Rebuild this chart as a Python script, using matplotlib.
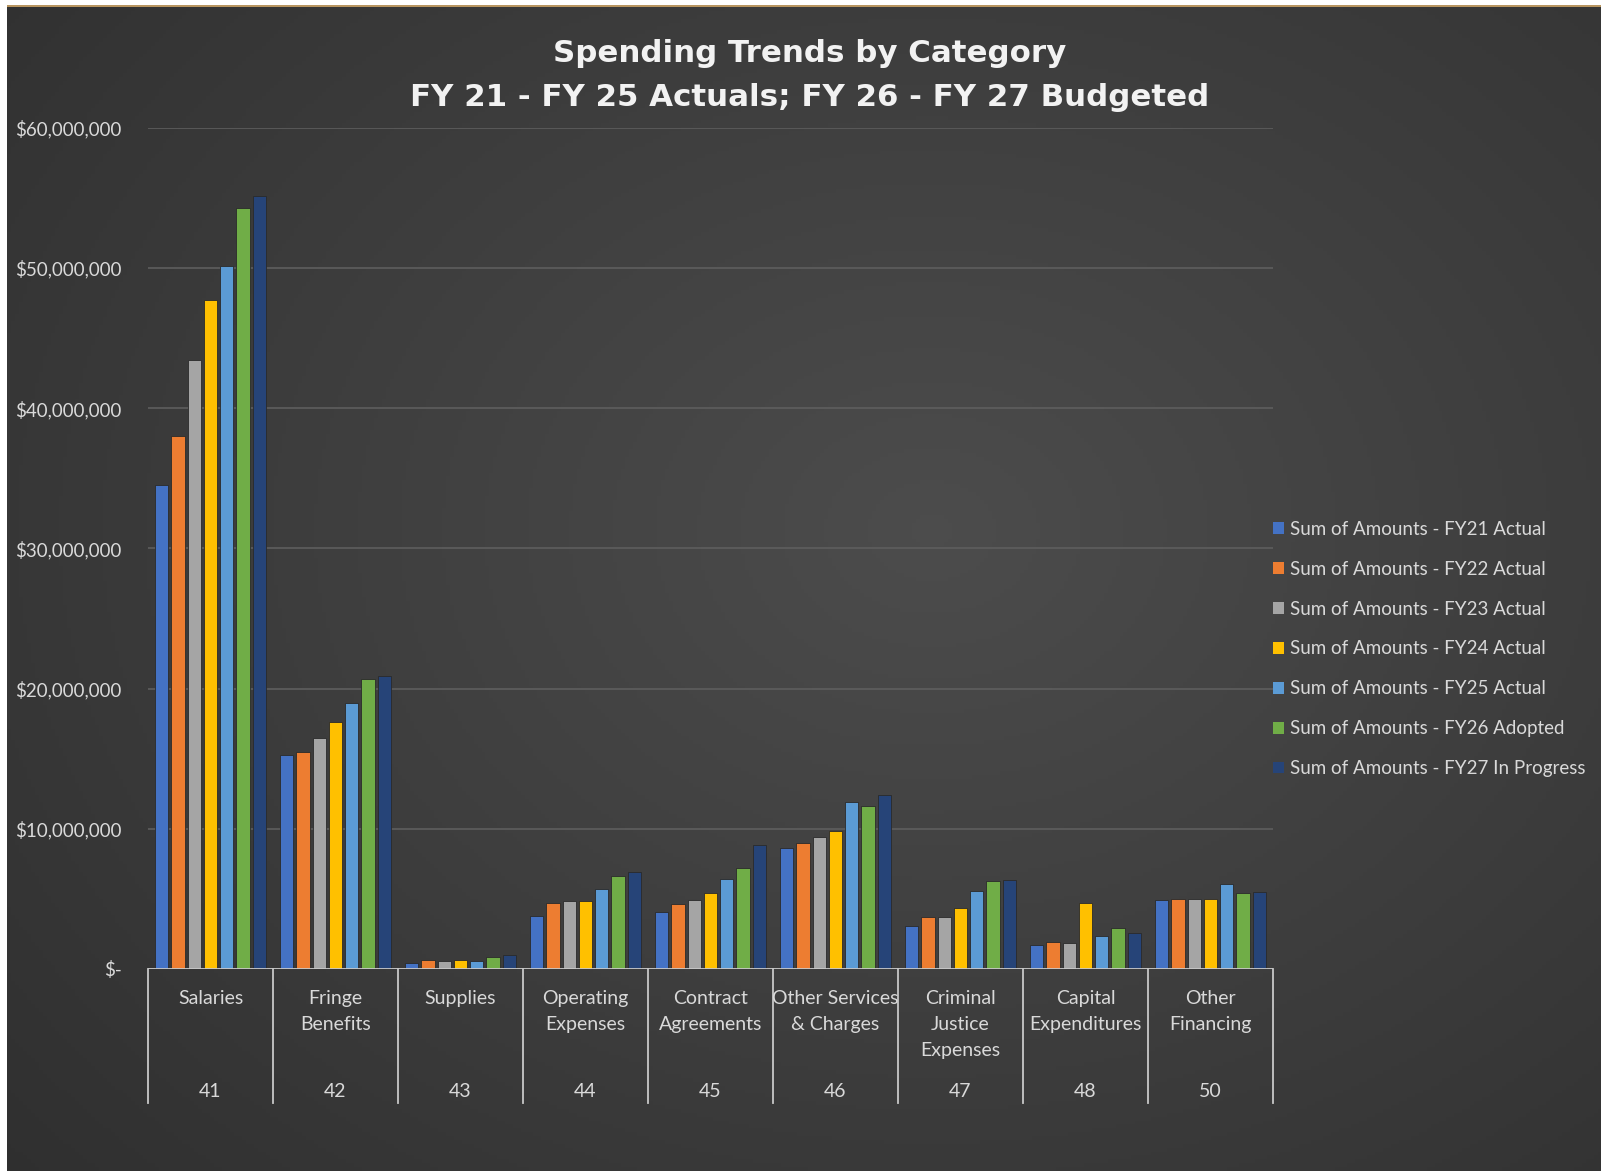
import numpy as np
import matplotlib.pyplot as plt
from matplotlib.patches import Patch, Rectangle
from matplotlib.ticker import FuncFormatter

categories = ["Salaries", "Fringe\nBenefits", "Supplies", "Operating\nExpenses",
              "Contract\nAgreements", "Other Services\n& Charges",
              "Criminal\nJustice\nExpenses", "Capital\nExpenditures", "Other\nFinancing"]
codes = ["41", "42", "43", "44", "45", "46", "47", "48", "50"]

series_names = ["Sum of Amounts - FY21 Actual", "Sum of Amounts - FY22 Actual",
                "Sum of Amounts - FY23 Actual", "Sum of Amounts - FY24 Actual",
                "Sum of Amounts - FY25 Actual", "Sum of Amounts - FY26 Adopted",
                "Sum of Amounts - FY27 In Progress"]

# values in millions of dollars
fy21 = [34.5, 15.25, 0.45, 3.8, 4.1, 8.6, 3.05, 1.7, 4.9]
fy22 = [38.0, 15.5, 0.65, 4.7, 4.6, 8.95, 3.7, 1.9, 5.0]
fy23 = [43.4, 16.5, 0.57, 4.85, 4.9, 9.4, 3.7, 1.85, 5.0]
fy24 = [47.7, 17.6, 0.65, 4.85, 5.4, 9.85, 4.35, 4.7, 5.0]
fy25 = [50.1, 19.0, 0.57, 5.7, 6.45, 11.9, 5.55, 2.35, 6.05]
fy26 = [54.25, 20.7, 0.83, 6.6, 7.2, 11.6, 6.3, 2.9, 5.4]
fy27 = [55.1, 20.9, 1.0, 6.95, 8.85, 12.4, 6.35, 2.6, 5.5]
series = [fy21, fy22, fy23, fy24, fy25, fy26, fy27]

colors = ["#4472C4", "#ED7D31", "#A5A5A5", "#FFC000", "#5B9BD5", "#70AD47", "#264478"]

W, H = 1601, 1171
FONT = ["Lato", "DejaVu Sans"]
TXT = "#d9d9d9"

fig = plt.figure(figsize=(W / 100, H / 100), dpi=100)
fig.patch.set_facecolor("white")

# dark radial-ish background
bg = fig.add_axes([7 / W, 0, 1 - 7 / W, 1 - 7 / H])
bg.set_axis_off()
yy, xx = np.mgrid[0:1:300j, 0:1:400j]
d = np.sqrt(((xx - 0.58) / 0.75) ** 2 + ((yy - 0.45) / 0.8) ** 2)
shade = np.clip(0.30 - 0.11 * d, 0.17, 0.30)
bg.imshow(np.dstack([shade] * 3), aspect="auto", extent=[0, 1, 0, 1], origin="upper")
fig.add_artist(Rectangle((7 / W, 1 - 7 / H), 1, 2.2 / H, transform=fig.transFigure,
                         color="#b89560", lw=0))

x0, x1 = 148, 1273
ybase, ytop = 969, 127.6
ax = fig.add_axes([x0 / W, (H - ybase) / H, (x1 - x0) / W, (ybase - ytop) / H])
ax.set_facecolor("none")

n = len(categories)
x = np.arange(n)
slot = 0.13
bw = 0.105
for k, (vals, c) in enumerate(zip(series, colors)):
    off = (k - 3) * slot
    ax.bar(x + off, np.array(vals) * 1e6, width=bw, color=c, zorder=3,
           edgecolor="#2a2a2a", linewidth=0.6, label=series_names[k])

ax.set_xlim(-0.5, n - 0.5)
ax.set_ylim(0, 60e6)
ax.set_yticks(np.arange(0, 61e6, 10e6))
ax.yaxis.set_major_formatter(FuncFormatter(lambda v, p: "$-" if v == 0 else f"${v:,.0f}"))
ax.tick_params(axis="y", length=0, pad=19, labelcolor=TXT, labelsize=13.5)
for lab in ax.get_yticklabels():
    lab.set_family(FONT)
ax.set_xticks([])
ax.grid(axis="y", color="#5e5e5e", linewidth=1.2, zorder=0)
for s in ax.spines.values():
    s.set_visible(False)
ax.axhline(0, color="#c8c8c8", linewidth=1.3, zorder=4)

# two-level category axis
tr = ax.get_xaxis_transform()
for b in np.arange(-0.5, n, 1.0):
    ax.plot([b, b], [0, -0.159], color="#c8c8c8", lw=1.3, transform=tr, clip_on=False)
for i in range(n):
    ax.text(i, -0.025, categories[i], transform=tr, ha="center", va="top",
            color=TXT, fontsize=14, family=FONT, linespacing=1.63)
    ax.text(i, -0.1455, codes[i], transform=tr, ha="center", va="center",
            color=TXT, fontsize=14, family=FONT)

TFONT = ["DejaVu Sans"]
fig.text(810 / W, 1 - 53 / H, "Spending Trends by Category", ha="center", va="center",
         color="#f2f2f2", fontsize=22.2, fontweight="bold", family=TFONT)
fig.text(810 / W, 1 - 97 / H, "FY 21 - FY 25 Actuals; FY 26 - FY 27 Budgeted", ha="center",
         va="center", color="#f2f2f2", fontsize=22.2, fontweight="bold", family=TFONT)

handles = [Patch(facecolor=c) for c in colors]
leg = fig.legend(handles, series_names, loc="upper left",
                 bbox_to_anchor=(1256 / W, 1 - 504 / H), frameon=False,
                 handlelength=0.6, handleheight=0.6, handletextpad=0.3,
                 labelspacing=1.22, prop={"family": FONT, "size": 13.5})
for t in leg.get_texts():
    t.set_color(TXT)

fig.savefig("out.png", dpi=100, facecolor=fig.get_facecolor())
